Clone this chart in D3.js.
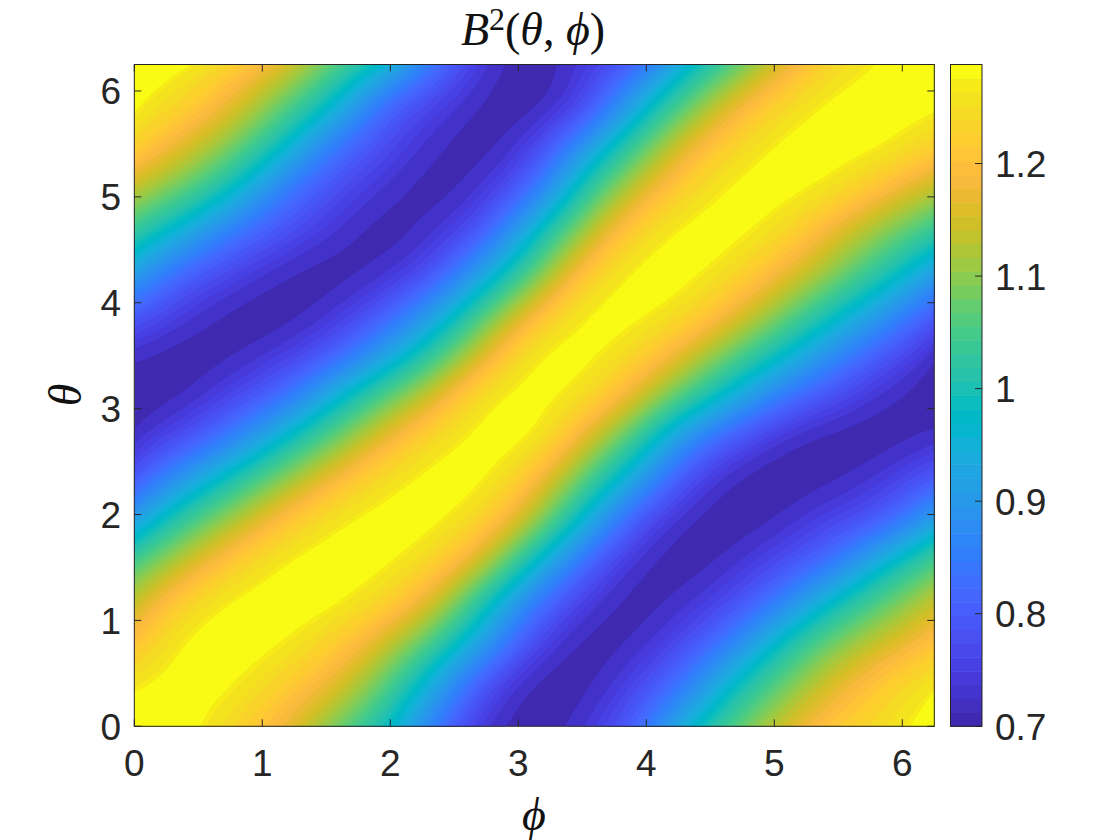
<!DOCTYPE html>
<html>
<head>
<meta charset="utf-8">
<style>
    html, body { margin: 0; padding: 0; background: #fff; }
    text { font-family: "Liberation Sans", Arial, sans-serif; fill: #262626; }
    .tick-label { font-size: 37px; }
    .math { font-family: "Liberation Serif", "DejaVu Serif", serif; font-style: italic; fill: #111; }
</style>
<script src="https://cdnjs.cloudflare.com/ajax/libs/d3/7.8.5/d3.min.js"></script>
</head>
<body>
<div id="my_dataviz"></div>
<script>
(function() {
    // grid of the surface
    var phiValues = [0, 0.39, 0.78, 1.17, 1.56, 1.95, 2.34, 2.73, 3.13, 3.52, 3.91, 4.3, 4.69, 5.08, 5.47, 5.86, 6.25];
    var thetaValues = [0, 0.39, 0.78, 1.17, 1.56, 1.95, 2.34, 2.73, 3.13, 3.52, 3.91, 4.3, 4.69, 5.08, 5.47, 5.86, 6.25];

    // one row per theta, bottom row first
    var b2Rows = [
        [1.285, 1.285, 1.24, 1.18, 1.09, 1.0, 0.85, 0.73, 0.7, 0.73, 0.8, 0.95, 1.06, 1.15, 1.215, 1.25, 1.285],
        [1.27, 1.285, 1.275, 1.225, 1.17, 1.07, 0.93, 0.77, 0.7, 0.705, 0.76, 0.84, 0.99, 1.08, 1.165, 1.225, 1.27],
        [1.205, 1.285, 1.288, 1.275, 1.225, 1.15, 1.045, 0.91, 0.76, 0.7, 0.715, 0.77, 0.86, 1.005, 1.09, 1.15, 1.205],
        [1.14, 1.235, 1.285, 1.288, 1.285, 1.24, 1.16, 1.0, 0.84, 0.74, 0.7, 0.725, 0.77, 0.86, 0.99, 1.07, 1.14],
        [1.055, 1.14, 1.22, 1.28, 1.288, 1.285, 1.24, 1.15, 0.98, 0.82, 0.72, 0.7, 0.725, 0.77, 0.83, 0.965, 1.055],
        [0.91, 1.04, 1.12, 1.205, 1.27, 1.288, 1.288, 1.235, 1.13, 0.96, 0.79, 0.71, 0.7, 0.72, 0.76, 0.79, 0.91],
        [0.79, 0.9, 1.01, 1.1, 1.185, 1.255, 1.288, 1.288, 1.2, 1.07, 0.93, 0.78, 0.705, 0.7, 0.71, 0.74, 0.79],
        [0.72, 0.77, 0.85, 0.975, 1.075, 1.17, 1.25, 1.288, 1.288, 1.17, 1.05, 0.885, 0.79, 0.72, 0.7, 0.7, 0.72],
        [0.7, 0.71, 0.76, 0.82, 0.955, 1.065, 1.155, 1.27, 1.288, 1.26, 1.17, 1.06, 0.95, 0.84, 0.775, 0.72, 0.7],
        [0.72, 0.7, 0.71, 0.74, 0.795, 0.91, 1.03, 1.16, 1.285, 1.288, 1.245, 1.165, 1.07, 0.98, 0.875, 0.79, 0.72],
        [0.8, 0.74, 0.705, 0.7, 0.73, 0.79, 0.91, 1.06, 1.185, 1.285, 1.288, 1.255, 1.18, 1.09, 0.995, 0.9, 0.8],
        [0.92, 0.81, 0.76, 0.715, 0.7, 0.72, 0.77, 0.92, 1.065, 1.21, 1.288, 1.288, 1.25, 1.18, 1.105, 1.02, 0.92],
        [1.035, 0.95, 0.84, 0.785, 0.735, 0.7, 0.725, 0.785, 0.97, 1.115, 1.23, 1.288, 1.288, 1.25, 1.165, 1.1, 1.035],
        [1.135, 1.075, 0.985, 0.84, 0.775, 0.73, 0.7, 0.73, 0.82, 1.02, 1.145, 1.23, 1.285, 1.288, 1.265, 1.195, 1.135],
        [1.23, 1.16, 1.085, 0.98, 0.83, 0.77, 0.72, 0.7, 0.75, 0.9, 1.05, 1.17, 1.24, 1.285, 1.288, 1.28, 1.23],
        [1.28, 1.235, 1.165, 1.07, 0.975, 0.805, 0.75, 0.71, 0.7, 0.75, 0.93, 1.07, 1.175, 1.245, 1.285, 1.288, 1.28],
        [1.288, 1.28, 1.225, 1.16, 1.06, 0.97, 0.83, 0.73, 0.7, 0.74, 0.81, 0.96, 1.07, 1.17, 1.245, 1.275, 1.288]
    ];

    var axisTicks = [0, 1, 2, 3, 4, 5, 6];
    var colorbarTicks = [0.7, 0.8, 0.9, 1, 1.1, 1.2];
    var colorDomain = [0.7, 1.288];
    var levelCount = 48;
    var flatLow = 0.7205;  // everything under this is the darkest band
    var flatHigh = 1.268;  // everything over this is the full yellow
    var drawSteps = 6;     // spline steps per grid cell, drawing only

    // parula
    var parula = [
        [0.2422,0.1504,0.6603],[0.2504,0.1650,0.7076],[0.2578,0.1818,0.7511],[0.2647,0.1978,0.7952],
        [0.2706,0.2147,0.8364],[0.2751,0.2342,0.8710],[0.2783,0.2559,0.8991],[0.2803,0.2782,0.9221],
        [0.2813,0.3006,0.9414],[0.2810,0.3228,0.9579],[0.2795,0.3447,0.9717],[0.2760,0.3667,0.9829],
        [0.2699,0.3892,0.9906],[0.2602,0.4123,0.9952],[0.2440,0.4358,0.9988],[0.2206,0.4603,0.9973],
        [0.1963,0.4847,0.9892],[0.1834,0.5074,0.9798],[0.1786,0.5289,0.9682],[0.1764,0.5499,0.9520],
        [0.1687,0.5703,0.9359],[0.1540,0.5902,0.9218],[0.1460,0.6091,0.9079],[0.1380,0.6276,0.8973],
        [0.1248,0.6459,0.8883],[0.1113,0.6635,0.8763],[0.0952,0.6798,0.8598],[0.0689,0.6948,0.8394],
        [0.0297,0.7082,0.8163],[0.0036,0.7203,0.7917],[0.0067,0.7312,0.7660],[0.0433,0.7411,0.7394],
        [0.0964,0.7500,0.7120],[0.1408,0.7584,0.6842],[0.1717,0.7670,0.6554],[0.1938,0.7758,0.6251],
        [0.2161,0.7843,0.5923],[0.2470,0.7918,0.5567],[0.2906,0.7973,0.5188],[0.3406,0.8008,0.4789],
        [0.3909,0.8029,0.4354],[0.4456,0.8024,0.3909],[0.5044,0.7993,0.3480],[0.5616,0.7942,0.3045],
        [0.6174,0.7876,0.2612],[0.6720,0.7793,0.2227],[0.7242,0.7698,0.1910],[0.7738,0.7598,0.1646],
        [0.8203,0.7498,0.1535],[0.8634,0.7406,0.1596],[0.9035,0.7330,0.1774],[0.9393,0.7288,0.2100],
        [0.9728,0.7298,0.2394],[0.9956,0.7434,0.2371],[0.9970,0.7659,0.2199],[0.9952,0.7861,0.1991],
        [0.9892,0.8066,0.1816],[0.9786,0.8271,0.1633],[0.9676,0.8481,0.1475],[0.9610,0.8705,0.1342],
        [0.9597,0.8938,0.1157],[0.9628,0.9204,0.0929],[0.9691,0.9466,0.0689],[0.9769,0.9839,0.0805]
    ];
    var colorMap = d3.scaleLinear()
        .domain(parula.map(function(d, i) { return i / (parula.length - 1); }))
        .range(parula.map(function(d) { return d3.rgb(d[0] * 255, d[1] * 255, d[2] * 255); }))
        .clamp(true);

    var width = 1120, height = 840;
    var plot = {left: 134.3, right: 934.3, top: 64.5, bottom: 726.3};
    var bar = {left: 950.5, right: 982};
    var tickLength = 7;
    var ink = "#262626";

    var x = d3.scaleLinear().domain([0, 6.25]).range([plot.left, plot.right]);
    var y = d3.scaleLinear().domain([0, 6.25]).range([plot.bottom, plot.top]);
    var c = d3.scaleLinear().domain(colorDomain).range([plot.bottom, plot.top]);

    var levels = d3.range(levelCount).map(function(i) {
        return colorDomain[0] + i * (colorDomain[1] - colorDomain[0]) / levelCount;
    });
    var levelStep = levels[1] - levels[0];
    var topLevel = levels[levels.length - 1];

    function levelColor(level) {
        var t = (level + levelStep / 2 - colorDomain[0]) / (colorDomain[1] - colorDomain[0]);
        return colorMap(level >= topLevel ? 1 : t);
    }

    var fieldLevels = [flatLow]
        .concat(levels.filter(function(d) { return d > flatLow + levelStep / 2 && d < flatHigh; }))
        .concat([flatHigh]);

    var svg = d3.select("#my_dataviz").append("svg")
        .attr("width", width)
        .attr("height", height)
        .style("display", "block");

    svg.append("clipPath").attr("id", "plot-clip")
        .append("rect")
            .attr("x", plot.left)
            .attr("y", plot.top)
            .attr("width", plot.right - plot.left)
            .attr("height", plot.bottom - plot.top);

    // the surface is drawn as a spline through the rows and columns, the way a
    // line would get a curve, so the contours come out round
    function smoothSurface(rows, steps) {
        var ts = d3.range(steps * (rows[0].length - 1) + 1).map(function(i, k, all) { return i / (all.length - 1); });
        var across = rows.map(function(row) {
            var spline = d3.interpolateBasis(row);
            return ts.map(spline);
        });
        var out = [];
        var us = d3.range(steps * (rows.length - 1) + 1).map(function(i, k, all) { return i / (all.length - 1); });
        var splines = ts.map(function(t, i) {
            return d3.interpolateBasis(across.map(function(row) { return row[i]; }));
        });
        us.forEach(function(u) {
            splines.forEach(function(spline) { out.push(spline(u)); });
        });
        return {values: out, nx: ts.length, ny: us.length};
    }

    var surface = smoothSurface(b2Rows, drawSteps);

    // d3.contours puts grid value i at coordinate i + 0.5
    var gridX = d3.scaleLinear().domain([0.5, surface.nx - 0.5]).range([phiValues[0], phiValues[phiValues.length - 1]]);
    var gridY = d3.scaleLinear().domain([0.5, surface.ny - 0.5]).range([thetaValues[0], thetaValues[thetaValues.length - 1]]);
    var path = d3.geoPath(d3.geoTransform({
        point: function(px, py) { this.stream.point(x(gridX(px)), y(gridY(py))); }
    }));

    var contours = d3.contours().size([surface.nx, surface.ny]).thresholds(fieldLevels)(surface.values);

    var field = svg.append("g").attr("clip-path", "url(#plot-clip)");

    field.append("rect")
        .attr("x", plot.left)
        .attr("y", plot.top)
        .attr("width", plot.right - plot.left)
        .attr("height", plot.bottom - plot.top)
        .attr("fill", levelColor(levels[0]));

    field.selectAll("path")
        .data(contours)
        .enter()
        .append("path")
            .attr("d", path)
            .attr("fill", function(d) { return d.value >= flatHigh ? levelColor(topLevel) : levelColor(d.value); });

    // colorbar, all the bands
    svg.append("g")
        .selectAll("rect")
        .data(levels)
        .enter()
        .append("rect")
            .attr("x", bar.left)
            .attr("width", bar.right - bar.left)
            .attr("y", function(d) { return c(d + levelStep); })
            .attr("height", function(d) { return c(d) - c(d + levelStep) + 0.5; })
            .attr("fill", levelColor);

    // frames
    function frame(left, right) {
        svg.append("rect")
            .attr("x", left)
            .attr("y", plot.top)
            .attr("width", right - left)
            .attr("height", plot.bottom - plot.top)
            .attr("fill", "none")
            .attr("stroke", ink)
            .attr("stroke-width", 1);
    }
    frame(plot.left, plot.right);
    frame(bar.left, bar.right);

    // ticks go inward on all four sides, labels only bottom and left
    function tickLines(scale, values, orient, position, size) {
        svg.append("g").selectAll("line")
            .data(values)
            .enter()
            .append("line")
                .attr("x1", function(d) { return orient === "x" ? scale(d) : position; })
                .attr("x2", function(d) { return orient === "x" ? scale(d) : position + size; })
                .attr("y1", function(d) { return orient === "x" ? position : scale(d); })
                .attr("y2", function(d) { return orient === "x" ? position + size : scale(d); })
                .attr("stroke", ink)
                .attr("stroke-width", 1);
    }
    tickLines(x, axisTicks, "x", plot.bottom, -tickLength);
    tickLines(x, axisTicks, "x", plot.top, tickLength);
    tickLines(y, axisTicks, "y", plot.left, tickLength);
    tickLines(y, axisTicks, "y", plot.right, -tickLength);
    tickLines(c, colorbarTicks, "y", bar.right, -tickLength);

    svg.append("g").selectAll("text")
        .data(axisTicks)
        .enter()
        .append("text")
            .classed("tick-label", true)
            .attr("x", x)
            .attr("y", 776)
            .attr("text-anchor", "middle")
            .text(function(d) { return d; });

    svg.append("g").selectAll("text")
        .data(axisTicks)
        .enter()
        .append("text")
            .classed("tick-label", true)
            .attr("x", 121)
            .attr("y", function(d) { return y(d) + 13.5; })
            .attr("text-anchor", "end")
            .text(function(d) { return d; });

    svg.append("g").selectAll("text")
        .data(colorbarTicks)
        .enter()
        .append("text")
            .classed("tick-label", true)
            .attr("x", 995)
            .attr("y", function(d) { return c(d) + 13.5; })
            .text(function(d) { return d; });

    // title and axis labels
    var title = svg.append("text")
        .classed("math", true)
        .attr("x", 533)
        .attr("y", 45)
        .attr("text-anchor", "middle")
        .style("font-size", "46px");
    title.append("tspan").text("B");
    title.append("tspan").attr("dy", -15).style("font-size", "32px").style("font-style", "normal").text("2");
    title.append("tspan").attr("dy", 15).style("font-style", "normal").text("(");
    title.append("tspan").text("θ");
    title.append("tspan").style("font-style", "normal").text(", ");
    title.append("tspan").text("ϕ");
    title.append("tspan").style("font-style", "normal").text(")");

    svg.append("text")
        .classed("math", true)
        .attr("x", 534)
        .attr("y", 830)
        .attr("text-anchor", "middle")
        .style("font-size", "46px")
        .text("ϕ");

    svg.append("text")
        .classed("math", true)
        .attr("transform", "translate(81, 395) rotate(-90)")
        .attr("text-anchor", "middle")
        .style("font-size", "46px")
        .text("θ");
})();
</script>
</body>
</html>
